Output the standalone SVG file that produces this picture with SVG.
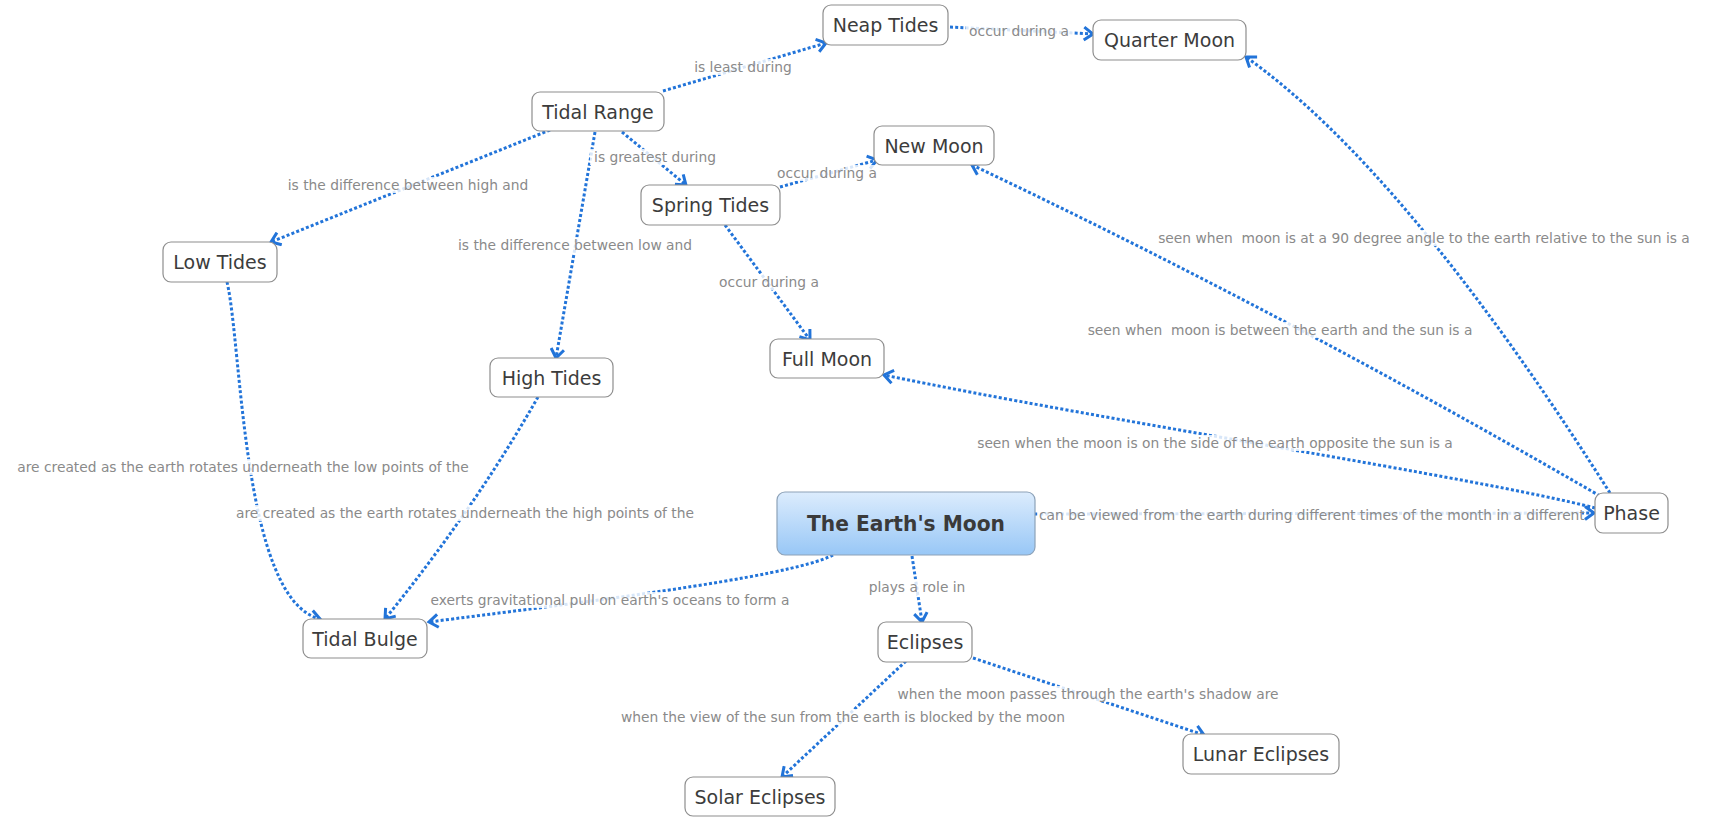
<svg xmlns="http://www.w3.org/2000/svg" width="1709" height="817" viewBox="0 0 1709 817">
<style>
.c{fill:none;stroke:#2274d9;stroke-width:3;stroke-dasharray:3 2.2;marker-end:url(#arr)}
.lb{fill:#fff;fill-opacity:0.82}
.lt{font-family:"DejaVu Sans",sans-serif;font-size:13.8px;fill:#8a8a8a;text-anchor:middle}
.nb{fill:#fff;stroke:#8e8e8e;stroke-width:1.2}
.nt{font-family:"DejaVu Sans",sans-serif;font-size:19px;fill:#3c3c3c;text-anchor:middle}
</style>
<defs>
<marker id="arr" markerUnits="userSpaceOnUse" markerWidth="16" markerHeight="16" refX="12" refY="8" orient="auto">
<path d="M3,1.5 L12,8 L3,14.5" fill="none" stroke="#2274d9" stroke-width="3" stroke-linejoin="miter"/>
</marker>
<linearGradient id="cg" x1="0" y1="0" x2="0" y2="1">
<stop offset="0" stop-color="#dcecfd"/>
<stop offset="1" stop-color="#98c7f6"/>
</linearGradient>
</defs>
<rect width="1709" height="817" fill="#fff"/>
<g id="connectors">
<path class="c" d="M663,91 L826,43"/>
<path class="c" d="M950,27 L1093,34"/>
<path class="c" d="M550,130 L271,242"/>
<path class="c" d="M595,132 L556,358"/>
<path class="c" d="M622,132 L686,185"/>
<path class="c" d="M780,187 L877,160"/>
<path class="c" d="M725,225 L810,340"/>
<path class="c" d="M1610,493 Q1405,170 1246,57"/>
<path class="c" d="M1600,496 Q1284,313 972,165"/>
<path class="c" d="M1595,508 C1480,478 1100,420 884,375"/>
<path class="c" d="M1035,514 L1594,513"/>
<path class="c" d="M227,282 C242,345 242,600 320,619"/>
<path class="c" d="M538,397 Q475,508 385,619"/>
<path class="c" d="M833,555 C790,578 560,605 429,622"/>
<path class="c" d="M912,556 L922,622"/>
<path class="c" d="M973,658 L1204,735"/>
<path class="c" d="M906,661 L782,777"/>
</g>
<g id="link-labels">
<rect class="lb" x="691" y="59" width="104" height="16"/><text class="lt" x="743" y="72">is least during</text>
<rect class="lb" x="966" y="23" width="107" height="16"/><text class="lt" x="1019" y="36">occur during a</text>
<rect class="lb" x="284" y="177" width="249" height="16"/><text class="lt" x="408" y="190">is the difference between high and</text>
<rect class="lb" x="590" y="149" width="129" height="16"/><text class="lt" x="655" y="162">is greatest during</text>
<rect class="lb" x="454" y="237" width="242" height="16"/><text class="lt" x="575" y="250">is the difference between low and</text>
<rect class="lb" x="775" y="165" width="105" height="16"/><text class="lt" x="827" y="178">occur during a</text>
<rect class="lb" x="716" y="274" width="106" height="16"/><text class="lt" x="769" y="287">occur during a</text>
<rect class="lb" x="1151" y="230" width="547" height="16"/><text class="lt" x="1424" y="243" xml:space="preserve">seen when  moon is at a 90 degree angle to the earth relative to the sun is a</text>
<rect class="lb" x="1082" y="322" width="396" height="16"/><text class="lt" x="1280" y="335" xml:space="preserve">seen when  moon is between the earth and the sun is a</text>
<rect class="lb" x="979" y="435" width="472" height="16"/><text class="lt" x="1215" y="448">seen when the moon is on the side of the earth opposite the sun is a</text>
<rect class="lb" x="1037" y="507" width="545" height="16"/><text class="lt" x="1039" y="520" style="text-anchor:start">can be viewed from the earth during different times of the month in a different</text>
<rect class="lb" x="11" y="459" width="465" height="16"/><text class="lt" x="243" y="472">are created as the earth rotates underneath the low points of the</text>
<rect class="lb" x="230" y="505" width="471" height="16"/><text class="lt" x="465" y="518">are created as the earth rotates underneath the high points of the</text>
<rect class="lb" x="425" y="592" width="370" height="16"/><text class="lt" x="610" y="605">exerts gravitational pull on earth's oceans to form a</text>
<rect class="lb" x="865" y="579" width="104" height="16"/><text class="lt" x="917" y="592">plays a role in</text>
<rect class="lb" x="892" y="686" width="391" height="16"/><text class="lt" x="1088" y="699">when the moon passes through the earth's shadow are</text>
<rect class="lb" x="615" y="709" width="456" height="16"/><text class="lt" x="843" y="722">when the view of the sun from the earth is blocked by the moon</text>
</g>
<g id="neap-tides"><rect class="nb" x="823" y="5" width="125" height="40" rx="8"/><text class="nt" x="885.5" y="32">Neap Tides</text></g>
<g id="quarter-moon"><rect class="nb" x="1093" y="20" width="153" height="40" rx="8"/><text class="nt" x="1169.5" y="47">Quarter Moon</text></g>
<g id="tidal-range"><rect class="nb" x="532" y="92" width="132" height="39" rx="8"/><text class="nt" x="598" y="118.5">Tidal Range</text></g>
<g id="new-moon"><rect class="nb" x="874" y="126" width="120" height="39" rx="8"/><text class="nt" x="934" y="152.5">New Moon</text></g>
<g id="spring-tides"><rect class="nb" x="641" y="185" width="139" height="40" rx="8"/><text class="nt" x="710.5" y="212">Spring Tides</text></g>
<g id="low-tides"><rect class="nb" x="163" y="242" width="114" height="40" rx="8"/><text class="nt" x="220" y="269">Low Tides</text></g>
<g id="full-moon"><rect class="nb" x="770" y="339" width="114" height="39" rx="8"/><text class="nt" x="827" y="365.5">Full Moon</text></g>
<g id="high-tides"><rect class="nb" x="490" y="358" width="123" height="39" rx="8"/><text class="nt" x="551.5" y="384.5">High Tides</text></g>
<g id="phase"><rect class="nb" x="1595" y="493" width="73" height="40" rx="8"/><text class="nt" x="1631.5" y="520">Phase</text></g>
<g id="the-earths-moon"><rect x="777" y="492" width="258" height="63" rx="8" fill="url(#cg)" stroke="#8da2b8" stroke-width="1.2"/><text x="906" y="531" text-anchor="middle" textLength="198" lengthAdjust="spacingAndGlyphs" style="font-family:'DejaVu Sans',sans-serif;font-size:22px;font-weight:bold;fill:#3a3a3a">The Earth's Moon</text></g>
<g id="tidal-bulge"><rect class="nb" x="303" y="619" width="124" height="39" rx="8"/><text class="nt" x="365" y="645.5">Tidal Bulge</text></g>
<g id="eclipses"><rect class="nb" x="878" y="622" width="94" height="40" rx="8"/><text class="nt" x="925" y="649">Eclipses</text></g>
<g id="lunar-eclipses"><rect class="nb" x="1183" y="734" width="156" height="40" rx="8"/><text class="nt" x="1261" y="761">Lunar Eclipses</text></g>
<g id="solar-eclipses"><rect class="nb" x="685" y="777" width="150" height="39" rx="8"/><text class="nt" x="760" y="803.5">Solar Eclipses</text></g>
</svg>
